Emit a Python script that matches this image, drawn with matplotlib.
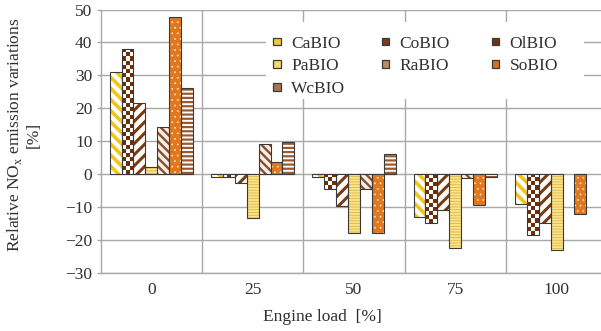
import numpy as np
import matplotlib
matplotlib.use("Agg")
import matplotlib.pyplot as plt
from matplotlib.patches import Rectangle
from matplotlib.colors import ListedColormap

plt.rcParams['font.family'] = ['Liberation Serif', 'DejaVu Serif']
plt.rcParams['hatch.linewidth'] = 1.5

# Engine load categories and relative NOx variation per fuel [%]
loads = ['0', '25', '50', '75', '100']
fuels = ['CaBIO', 'CoBIO', 'OlBIO', 'PaBIO', 'RaBIO', 'SoBIO', 'WcBIO']
cabio = [31.0, -1.0, -1.0, -13.2, -9.2]
cobio = [38.0, -1.0, -4.7, -14.8, -18.6]
olbio = [21.5, -2.6, -9.8, -10.8, -15.0]
pabio = [2.2, -13.3, -17.9, -22.6, -23.0]
rabio = [14.4, 9.0, -4.5, -1.1, np.nan]
sobio = [47.8, 3.7, -17.9, -9.5, -12.2]
wcbio = [26.0, 9.7, 6.0, -0.9, np.nan]
series = [cabio, cobio, olbio, pabio, rabio, sobio, wcbio]

styles = {
    'CaBIO': dict(face='white', hatch='\\\\\\', hcolor='#F2C51C', hlw=2.6),
    'CoBIO': dict(face='white', hatch=None, hcolor='#6A300C', hlw=0.0),
    'OlBIO': dict(face='white', hatch='///', hcolor='#7A3B10', hlw=2.2),
    'PaBIO': dict(face='#F9E58C', hatch='------', hcolor='#E0B548', hlw=0.6),
    'RaBIO': dict(face='#F7EEE6', hatch='\\\\\\\\', hcolor='#875030', hlw=1.7),
    'SoBIO': dict(face='#E07820', hatch='...', hcolor='#FCE6C6', hlw=0.5),
    'WcBIO': dict(face='white', hatch='----', hcolor='#9A5A2E', hlw=1.6),
}
legend_face = {'CaBIO': '#EDCB3A', 'CoBIO': '#7A3E16', 'OlBIO': '#6E3510',
               'PaBIO': '#F4D770', 'RaBIO': '#B98A66', 'SoBIO': '#D9701E',
               'WcBIO': '#A77552'}
outline_color = '#3a3a3a'
grid_color = '#a8a8a8'
text_color = '#303030'
fs = 12.5

fig = plt.figure(figsize=(6.01, 3.31), dpi=100)
ax = fig.add_axes([100.7 / 601, 1 - 272.7 / 331, 506.5 / 601, (272.7 - 9.5) / 331])

x = np.arange(len(loads))
w = 0.1175
ax.set_xlim(-0.5, len(loads) - 0.5)
ax.set_ylim(-30, 50)


def set_hatch_lw(patch, lw):
    if hasattr(patch, 'set_hatch_linewidth'):
        patch.set_hatch_linewidth(lw)


checker_cmap = ListedColormap(['white', styles['CoBIO']['hcolor']])
for i, (name, vals) in enumerate(zip(fuels, series)):
    st = styles[name]
    xs = x + (i - 3) * w
    fill = ax.bar(xs, vals, w, color=st['face'], edgecolor=st['hcolor'],
                  hatch=st['hatch'], linewidth=0, zorder=2)
    for p in fill:
        set_hatch_lw(p, st['hlw'])
    if name == 'CoBIO':
        # checkerboard texture clipped to each bar
        for p in fill:
            bb = p.get_bbox()
            x0, x1 = sorted([bb.x0, bb.x1])
            y0, y1 = sorted([bb.y0, bb.y1])
            if not np.isfinite(y1 - y0) or y1 - y0 <= 0:
                continue
            ny = max(1, int(round((y1 - y0) / 1.25)))
            iy, ix = np.mgrid[0:ny, 0:3]
            img = ax.imshow((ix + iy) % 2, cmap=checker_cmap, aspect='auto',
                            interpolation='nearest', extent=(x0, x1, y0, y1),
                            origin='lower', zorder=2.5)
            img.set_clip_path(p)
    ax.bar(xs, vals, w, fill=False, edgecolor=outline_color, linewidth=0.8, zorder=3)

ax.set_xlim(-0.5, len(loads) - 0.5)
ax.set_ylim(-30, 50)

# grid: horizontal every 10 %, vertical separators between load groups
ax.set_yticks(np.arange(-30, 51, 10))
ax.set_xticks(x)
ax.set_xticklabels(loads)
ax.set_xticks(x[:-1] + 0.5, minor=True)
ax.grid(axis='y', which='major', color=grid_color, linewidth=1.0, zorder=0)
ax.grid(axis='x', which='minor', color=grid_color, linewidth=1.0, zorder=0)
ax.set_axisbelow(True)
for s in ['top', 'right']:
    ax.spines[s].set_visible(False)
for s in ['left', 'bottom']:
    ax.spines[s].set_color(grid_color)
    ax.spines[s].set_linewidth(1.0)
ax.tick_params(axis='y', length=3, width=1.0, color=grid_color, pad=3,
               labelsize=fs, labelcolor=text_color)
ax.tick_params(axis='x', which='both', length=0, pad=7,
               labelsize=fs, labelcolor=text_color)

fig.text(23.5 / 601, 1 - 135 / 331,
         'Relative NO$_\\mathregular{x}$ emission variations\n[%]',
         rotation=90, ha='center', va='center', multialignment='center',
         fontsize=fs, color=text_color, linespacing=1.15)
fig.text(322 / 601, 1 - 317 / 331, 'Engine load  [%]', ha='center', va='center',
         fontsize=fs, color=text_color)

# legend: white panel with three columns of swatch + label
W, H = 601.0, 331.0
fig.add_artist(Rectangle((266 / W, 1 - 99 / H), (584 - 266) / W, (99 - 22) / H,
                         transform=fig.transFigure, facecolor='white',
                         edgecolor='none', zorder=4))
columns = [['CaBIO', 'PaBIO', 'WcBIO'], ['CoBIO', 'RaBIO'], ['OlBIO', 'SoBIO']]
col_x = [277, 385.5, 495.5]
row_y = [41.7, 64.0, 87.0]
sw = 7.5
for cx, names in zip(col_x, columns):
    for ry, name in zip(row_y, names):
        fig.add_artist(Rectangle(((cx - sw / 2) / W, 1 - (ry + sw / 2) / H), sw / W, sw / H,
                                 transform=fig.transFigure,
                                 facecolor=legend_face[name],
                                 edgecolor=outline_color, linewidth=0.9, zorder=5))
        fig.text((cx + 14) / W, 1 - ry / H, name, ha='left', va='center_baseline',
                 fontsize=fs, color=text_color, zorder=6)

fig.savefig('out.png', dpi=100)
